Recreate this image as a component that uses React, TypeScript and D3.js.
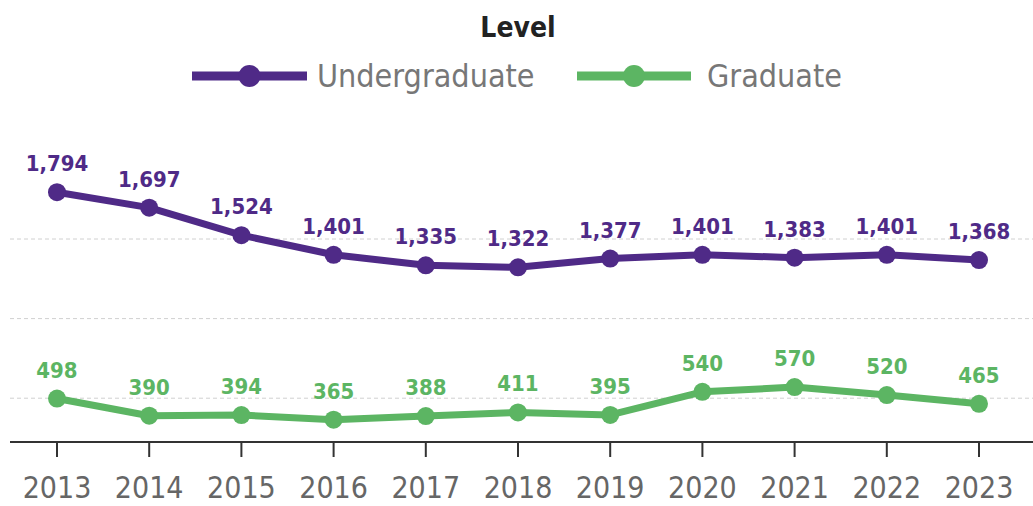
import React from "react";
import * as d3 from "d3";

const years = ["2013", "2014", "2015", "2016", "2017", "2018", "2019", "2020", "2021", "2022", "2023"];
const undergraduate = [1794, 1697, 1524, 1401, 1335, 1322, 1377, 1401, 1383, 1401, 1368];
const graduate = [498, 390, 394, 365, 388, 411, 395, 540, 570, 520, 465];
const gridValues = [500, 1000, 1500];
const seriesNames = ["Undergraduate", "Graduate"];
const seriesColors = ["#4f2a87", "#5cb563"];

const width = 1033;
const height = 506;
const axisY = 442;
const labelFont = "'DejaVu Sans Condensed', 'DejaVu Sans', sans-serif";

export default function App() {
  const x = d3.scalePoint<string>().domain(years).range([57, 979]);
  const y = d3.scaleLinear().domain([225, 1500]).range([axisY, 239]);
  const fmt = d3.format(",");

  const line = d3
    .line<number>()
    .x((_, i) => x(years[i]) as number)
    .y((d) => y(d));

  const series = [undergraduate, graduate];

  // legend layout
  const legend = [
    { lineX0: 192, lineX1: 307, textX: 317 },
    { lineX0: 577, lineX1: 691, textX: 707 },
  ];

  return (
    <svg
      width={width}
      height={height}
      style={{ position: "absolute", left: 0, top: 0, background: "#fff" }}
    >
      {/* legend */}
      <text
        x={518}
        y={37}
        textAnchor="middle"
        fontFamily={labelFont}
        fontWeight="bold"
        fontSize={28}
        fill="#222"
      >
        Level
      </text>
      {legend.map((l, i) => (
        <g key={seriesNames[i]}>
          <line
            x1={l.lineX0}
            x2={l.lineX1}
            y1={76}
            y2={76}
            stroke={seriesColors[i]}
            strokeWidth={9}
          />
          <circle cx={(l.lineX0 + l.lineX1) / 2} cy={76} r={11} fill={seriesColors[i]} />
          <text x={l.textX} y={87} fontFamily={labelFont} fontSize={32} fill="#777">
            {seriesNames[i]}
          </text>
        </g>
      ))}

      {/* gridlines */}
      {gridValues.map((v) => (
        <line
          key={v}
          x1={10}
          x2={width}
          y1={y(v)}
          y2={y(v)}
          stroke="#d0d0d0"
          strokeWidth={1}
          strokeDasharray="4,3"
        />
      ))}

      {/* x axis */}
      <line x1={10} x2={width} y1={axisY} y2={axisY} stroke="#333" strokeWidth={2} />
      {years.map((yr) => (
        <g key={yr}>
          <line
            x1={x(yr)}
            x2={x(yr)}
            y1={axisY}
            y2={axisY + 15}
            stroke="#333"
            strokeWidth={2}
          />
          <text
            x={x(yr)}
            y={498}
            textAnchor="middle"
            fontFamily={labelFont}
            fontSize={30}
            fill="#666"
          >
            {yr}
          </text>
        </g>
      ))}

      {/* lines, points, labels */}
      {series.map((s, si) => (
        <g key={seriesNames[si]}>
          <path
            d={line(s) || ""}
            fill="none"
            stroke={seriesColors[si]}
            strokeWidth={7}
            strokeLinejoin="round"
          />
          {s.map((v, i) => (
            <circle key={i} cx={x(years[i])} cy={y(v)} r={9} fill={seriesColors[si]} />
          ))}
          {s.map((v, i) => (
            <text
              key={"t" + i}
              x={x(years[i])}
              y={y(v) - 21}
              textAnchor="middle"
              fontFamily={labelFont}
              fontWeight="bold"
              fontSize={22}
              fill={seriesColors[si]}
            >
              {fmt(v)}
            </text>
          ))}
        </g>
      ))}
    </svg>
  );
}
